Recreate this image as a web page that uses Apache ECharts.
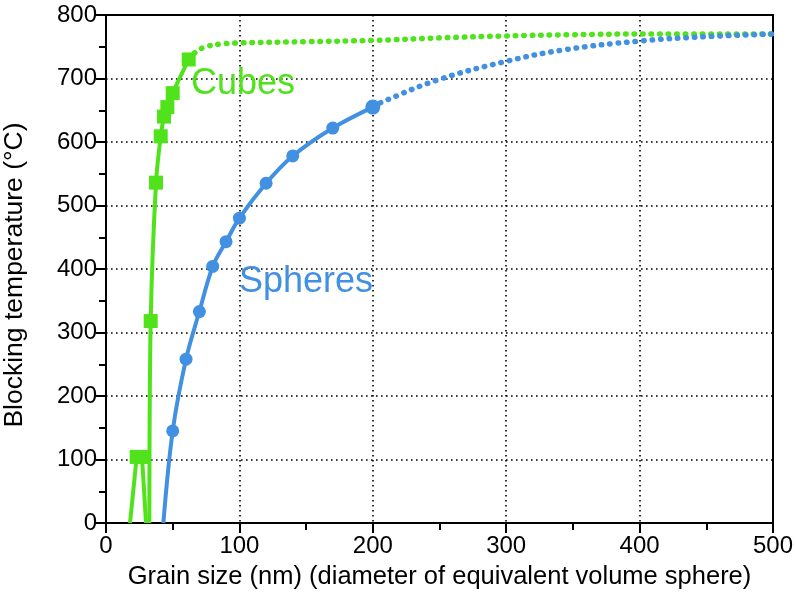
<!DOCTYPE html>
<html>
<head>
<meta charset="utf-8">
<script src="https://cdn.jsdelivr.net/npm/echarts@6/dist/echarts.min.js"></script>
<style>
html,body{margin:0;padding:0;background:#fff;}
#chart{width:796px;height:598px;}
</style>
</head>
<body>
<div id="chart"></div>
<script>
// ---- Data ----
// Cubes: measured points (square markers)
const cubeX = [23, 27, 33.5, 37.5, 41, 43.5, 46, 50, 62];
const cubeY = [104, 104, 318, 536, 609, 640, 655, 677, 730];
// Cubes: solid connecting curve (lower zig-zag part, then main rise)
const cubeLowX = [18, 23, 27, 30];
const cubeLowY = [0, 104, 104, 0];
const cubeMainX = [32.5, 33.5, 37.5, 41, 43.5, 46, 50, 62];
const cubeMainY = [0, 318, 536, 609, 640, 655, 677, 730];
// Cubes: dotted extrapolation
const cubeFitX = [62, 68, 75, 85, 100, 150, 200, 250, 300, 350, 400, 500];
const cubeFitY = [730, 743, 750, 754, 756, 758, 760, 764, 767, 769, 770, 770];

// Spheres: measured points (circle markers)
const sphereX = [50, 60, 70, 80, 90, 100, 120, 140, 170, 200];
const sphereY = [145, 258, 333, 404, 443, 480, 535, 578, 622, 655];
// Spheres: solid curve starts at the axis
const sphereLineX = [43].concat(sphereX);
const sphereLineY = [0].concat(sphereY);
// Spheres: dotted extrapolation
const sphereFitX = [200, 207, 249, 300, 343, 400, 450, 500];
const sphereFitY = [655, 663, 698, 727, 745, 759, 766, 770];

// Axis ticks
const xTicks = [0, 100, 200, 300, 400, 500];
const yTicks = [0, 100, 200, 300, 400, 500, 600, 700, 800];

const GREEN = '#50e31b';
const BLUE = '#4190e2';
const FONT = '"Liberation Sans", Arial, Helvetica, sans-serif';

function zip(xs, ys) { return xs.map((x, i) => [x, ys[i]]); }

const chart = echarts.init(document.getElementById('chart'), null, {renderer: 'canvas'});

const dotted = (color) => ({color: color, width: 5.5, type: [0.5, 8], cap: 'round'});

const option = {
  animation: false,
  backgroundColor: '#fff',
  textStyle: {fontFamily: FONT},
  grid: {left: 106, right: 23, top: 15, bottom: 75, containLabel: false, outerBoundsMode: 'none',
         show: true, borderColor: '#000', borderWidth: 2, backgroundColor: 'transparent'},
  xAxis: {
    type: 'value', min: xTicks[0], max: xTicks[xTicks.length - 1], interval: 100,
    name: 'Grain size (nm) (diameter of equivalent volume sphere)',
    nameLocation: 'middle', nameGap: 41,
    nameTextStyle: {fontSize: 25.5, color: '#000', fontFamily: FONT},
    axisLine: {show: true, onZero: false, lineStyle: {color: '#000', width: 2}},
    axisTick: {show: true, inside: false, length: 10, lineStyle: {color: '#000', width: 2}},
    minorTick: {show: true, splitNumber: 2, length: 7, lineStyle: {color: '#000', width: 2}},
    axisLabel: {fontSize: 24, color: '#000', margin: 11, fontFamily: FONT},
    splitLine: {show: true, lineStyle: {color: '#000', width: 1.6, type: [1.6, 3.4]}}
  },
  yAxis: {
    type: 'value', min: yTicks[0], max: yTicks[yTicks.length - 1], interval: 100,
    name: 'Blocking temperature (°C)',
    nameLocation: 'middle', nameGap: 78, nameRotate: 90,
    nameTextStyle: {fontSize: 26.5, color: '#000', fontFamily: FONT, padding: [0, 12, 0, 0]},
    axisLine: {show: true, onZero: false, lineStyle: {color: '#000', width: 2}},
    axisTick: {show: true, inside: false, length: 10, lineStyle: {color: '#000', width: 2}},
    minorTick: {show: true, splitNumber: 2, length: 7, lineStyle: {color: '#000', width: 2}},
    axisLabel: {fontSize: 24, color: '#000', margin: 9, fontFamily: FONT},
    splitLine: {show: true, lineStyle: {color: '#000', width: 1.6, type: [1.6, 3.4]}}
  },
  series: [
    {name: 'cubesFit', type: 'line', data: zip(cubeFitX, cubeFitY), smooth: 0.4, showSymbol: false, symbol: 'none',
     lineStyle: dotted(GREEN), z: 3},
    {name: 'spheresFit', type: 'line', data: zip(sphereFitX, sphereFitY), smooth: 0.4, showSymbol: false, symbol: 'none',
     lineStyle: dotted(BLUE), z: 3},
    {name: 'cubesLow', type: 'line', data: zip(cubeLowX, cubeLowY), smooth: false, symbol: 'none',
     lineStyle: {color: GREEN, width: 4}, z: 4},
    {name: 'cubesMain', type: 'line', data: zip(cubeMainX, cubeMainY), smooth: 0.3, symbol: 'none',
     lineStyle: {color: GREEN, width: 4}, z: 4},
    {name: 'spheresLine', type: 'line', data: zip(sphereLineX, sphereLineY), smooth: 0.35, symbol: 'none',
     lineStyle: {color: BLUE, width: 4}, z: 4},
    {name: 'cubes', type: 'scatter', data: zip(cubeX, cubeY), symbol: 'rect', symbolSize: 14,
     itemStyle: {color: GREEN, opacity: 1}, z: 5},
    {name: 'spheres', type: 'scatter', data: zip(sphereX, sphereY), symbol: 'circle',
     symbolSize: (v, p) => p.dataIndex === sphereX.length - 1 ? 15 : 13,
     itemStyle: {color: BLUE, opacity: 1}, z: 5}
  ],
  graphic: [
    {type: 'text', left: 191, top: 66, style: {text: 'Cubes', fill: GREEN, font: '36px ' + FONT}, z: 10},
    {type: 'text', left: 239, top: 264, style: {text: 'Spheres', fill: BLUE, font: '36px ' + FONT}, z: 10}
  ]
};
chart.setOption(option);
</script>
</body>
</html>
